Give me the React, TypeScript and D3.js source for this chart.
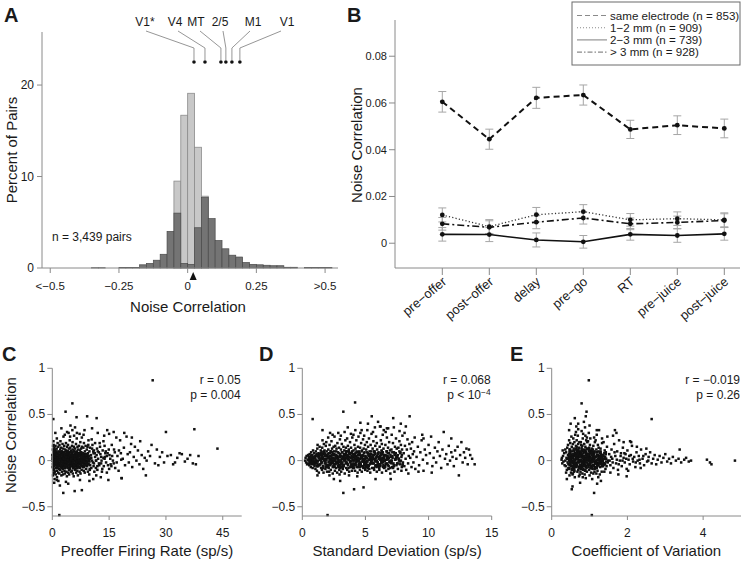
import React from "react";
import * as d3 from "d3";

const FONT = "'Liberation Sans', Arial, Helvetica, sans-serif";
const AXIS = "#8a8a8a";
const TXT = "#1a1a1a";

// ---------------- Panel A: histogram ----------------
const binWidth = 0.025;
const darkBinStart = [-0.35, -0.325, -0.25, -0.225, -0.2, -0.175, -0.15, -0.125, -0.1, -0.075, -0.05, -0.025, 0, 0.025, 0.05, 0.075, 0.1, 0.125, 0.15, 0.175, 0.2, 0.225, 0.25, 0.275, 0.3, 0.325, 0.35, 0.375, 0.425, 0.45, 0.475, 0.5];
const darkBinPct = [0.03, 0.03, 0.05, 0.05, 0.06, 0.35, 0.5, 0.85, 1.5, 4.0, 6.0, 0.5, 0.4, 4.4, 7.7, 5.4, 3.0, 2.1, 1.4, 1.2, 0.6, 0.4, 0.35, 0.3, 0.25, 0.25, 0.08, 0.08, 0.04, 0.04, 0.04, 0.04];
const lightBinStart = [-0.05, -0.025, 0, 0.025, 0.05];
const lightBinPct = [9.5, 16.7, 19.1, 13.2, 7.85];
const histTicks = [-0.5, -0.25, 0, 0.25, 0.5];
const histTickLabels = ["<−0.5", "−0.25", "0", "0.25", ">0.5"];
const pctTicks = [0, 10, 20];
const meanNoiseCorr = 0.02;
const areaNames = ["V1*", "V4", "MT", "2/5", "M1", "V1"];
const areaCorr = [0.023, 0.063, 0.121, 0.139, 0.161, 0.19];
const areaLabelX = [145, 175, 196, 220, 253, 287];
const areaLeaderX = [146, 178, 200, 223, 250, 281];

// ---------------- Panel B: epochs ----------------
const epochs = ["pre−offer", "post−offer", "delay", "pre−go", "RT", "pre−juice", "post−juice"];
const sameElec = [0.0605, 0.0445, 0.0622, 0.0634, 0.0487, 0.0505, 0.0491];
const sameElecErr = [0.0044, 0.0043, 0.0045, 0.0043, 0.0039, 0.004, 0.004];
const mm12 = [0.0121, 0.0071, 0.0122, 0.0135, 0.01, 0.0105, 0.01];
const mm12Err = [0.003, 0.003, 0.0031, 0.003, 0.0027, 0.0029, 0.003];
const mm23 = [0.0038, 0.0037, 0.0014, 0.0006, 0.0038, 0.0033, 0.004];
const mm23Err = [0.0029, 0.003, 0.003, 0.0027, 0.0025, 0.0029, 0.0027];
const mm3 = [0.0083, 0.0068, 0.009, 0.0108, 0.0083, 0.0089, 0.0097];
const mm3Err = [0.0027, 0.0028, 0.0028, 0.0026, 0.0025, 0.0027, 0.0029];
const corrTicks = [0, 0.02, 0.04, 0.06, 0.08];
const legendLabels = ["same electrode (n = 853)", "1−2 mm (n = 909)", "2−3 mm (n = 739)", "> 3 mm (n = 928)"];

// ---------------- Panel C: firing rate vs noise correlation ----------------
const firingCore = [
[0.1,0.01],[0.2,-0.07],[0.15,0.12],[0.3,-0.13],[0.25,0.05],[0.4,-0.02],[0.35,0.17],[0.45,-0.1],[0.5,0.08],[0.2,-0.16],[0.55,0.14],[0.6,-0.05],[0.3,0.21],[0.7,0.03],[0.65,-0.12],[0.8,0.11],[0.9,-0.08],[0.75,0.06],[0.95,-0.15],[0.85,0.16],[0.4,0.09],[0.6,-0.2],[0.9,0.02],[0.15,-0.04],
[1.0,0.0],[1.1,-0.04],[1.05,0.09],[1.2,-0.11],[1.15,0.13],[1.3,0.04],[1.25,-0.18],[1.4,0.19],[1.35,-0.06],[1.5,0.07],[1.55,-0.13],[1.6,0.15],[1.7,-0.02],[1.65,0.1],[1.8,-0.09],[1.75,0.02],[1.9,0.17],[1.85,-0.14],[1.95,-0.03],[1.45,0.01],[1.2,0.24],[1.6,-0.22],
[2.0,0.05],[2.1,0.12],[2.05,-0.1],[2.2,0.0],[2.15,0.21],[2.3,-0.07],[2.25,0.08],[2.4,-0.16],[2.35,0.14],[2.5,0.03],[2.45,-0.05],[2.6,0.1],[2.55,-0.12],[2.7,0.18],[2.65,-0.01],[2.8,0.06],[2.75,-0.09],[2.9,0.13],[2.85,-0.15],[2.95,0.26],[2.3,0.02],[2.7,-0.04],
[3.0,0.01],[3.1,-0.06],[3.05,0.09],[3.2,-0.11],[3.15,0.16],[3.3,0.04],[3.25,-0.02],[3.4,0.12],[3.35,-0.14],[3.5,0.07],[3.45,-0.08],[3.6,0.19],[3.55,0.0],[3.7,-0.12],[3.65,0.11],[3.8,-0.04],[3.75,0.05],[3.9,0.15],[3.85,-0.17],[3.95,0.03],[3.3,0.28],[3.6,-0.23],
[4.0,-0.07],[4.1,0.1],[4.05,0.02],[4.2,-0.13],[4.15,0.17],[4.3,-0.01],[4.25,0.07],[4.4,-0.1],[4.35,0.13],[4.5,0.04],[4.45,-0.15],[4.6,0.22],[4.55,-0.04],[4.7,0.09],[4.65,-0.09],[4.8,0.01],[4.75,0.14],[4.9,-0.12],[4.85,0.06],[4.95,-0.02],[4.3,0.3],[4.7,0.26],
[5.0,0.11],[5.1,-0.05],[5.05,0.04],[5.2,0.16],[5.15,-0.11],[5.3,0.0],[5.25,0.08],[5.4,-0.14],[5.35,0.2],[5.5,-0.03],[5.45,0.12],[5.6,0.05],[5.55,-0.08],[5.7,0.15],[5.65,-0.17],[5.8,0.02],[5.75,0.27],[5.9,-0.06],[5.85,0.1],[5.95,-0.1],[5.3,0.33],
[6.0,0.03],[6.1,-0.09],[6.05,0.13],[6.2,-0.02],[6.15,0.07],[6.3,-0.13],[6.25,0.18],[6.4,0.01],[6.35,-0.06],[6.5,0.1],[6.45,0.24],[6.6,-0.11],[6.55,0.05],[6.7,-0.03],[6.65,0.15],[6.8,0.08],[6.75,-0.16],[6.9,0.0],[6.85,0.12],[6.95,-0.07],[6.5,0.3],
[7.0,0.06],[7.1,-0.04],[7.05,0.16],[7.2,-0.12],[7.15,0.02],[7.3,0.11],[7.25,-0.08],[7.4,0.2],[7.35,-0.01],[7.5,0.07],[7.45,-0.14],[7.6,0.13],[7.55,0.0],[7.7,-0.06],[7.65,0.09],[7.8,0.25],[7.75,-0.1],[7.9,0.04],[7.85,0.15],[7.95,-0.02],
[8.0,0.08],[8.1,-0.07],[8.2,0.14],[8.15,0.01],[8.3,-0.11],[8.4,0.05],[8.35,0.19],[8.5,-0.03],[8.6,0.1],[8.55,-0.13],[8.7,0.03],[8.8,0.16],[8.75,-0.05],[8.9,0.07],[8.95,-0.09],[8.25,0.28],
[9.0,0.0],[9.1,0.12],[9.2,-0.06],[9.3,0.06],[9.4,-0.12],[9.5,0.17],[9.6,0.02],[9.7,-0.04],[9.8,0.1],[9.9,-0.1],[9.55,0.22],[9.35,0.04],[9.75,-0.15],[9.95,0.14],
[10.1,0.03],[10.3,-0.08],[10.5,0.13],[10.7,-0.02],[10.9,0.08],[11.1,-0.12],[11.3,0.19],[11.5,0.0],[11.7,0.06],[11.9,-0.06],[10.4,0.23],[11.0,0.11],[11.6,-0.16],[12.0,0.1]
];
const firingDense = [
[0.05,0.0],[0.5,0.05],[0.25,-0.04],[0.75,0.08],[0.1,-0.07],[0.6,0.02],[0.35,0.1],[0.9,-0.02],[0.15,0.06],[0.45,-0.06],[0.8,0.03],[0.3,-0.09],[0.65,0.07],[0.95,-0.01],[0.2,0.04],[0.55,-0.05],[0.4,0.09],[0.85,-0.03],[0.7,0.01],[0.0,0.06],
[1.05,0.03],[1.5,-0.03],[1.25,0.07],[1.75,-0.06],[1.1,0.1],[1.6,0.0],[1.35,-0.08],[1.9,0.05],[1.15,-0.02],[1.45,0.04],[1.8,0.09],[1.3,0.01],[1.65,-0.05],[1.95,0.02],[1.2,-0.06],[1.55,0.08],[1.4,-0.01],[1.85,-0.09],[1.7,0.06],[1.0,-0.04],
[2.05,-0.05],[2.5,0.08],[2.25,0.02],[2.75,-0.03],[2.1,0.06],[2.6,-0.08],[2.35,0.0],[2.9,0.04],[2.15,0.09],[2.45,-0.02],[2.8,0.07],[2.3,-0.07],[2.65,0.03],[2.95,-0.05],[2.2,0.05],[2.55,-0.01],[2.4,0.1],[2.85,0.01],[2.7,-0.06],[2.0,0.02],
[3.05,0.04],[3.5,-0.06],[3.25,0.09],[3.75,0.01],[3.1,-0.03],[3.6,0.06],[3.35,-0.08],[3.9,0.03],[3.15,0.0],[3.45,0.07],[3.8,-0.04],[3.3,0.05],[3.65,-0.01],[3.95,0.08],[3.2,-0.07],[3.55,0.02],[3.4,-0.03],[3.85,0.06],[3.7,0.1],[3.0,-0.05],
[4.05,0.07],[4.5,0.0],[4.25,-0.05],[4.75,0.04],[4.1,0.02],[4.6,-0.07],[4.35,0.08],[4.9,-0.02],[4.15,-0.08],[4.45,0.05],[4.8,0.09],[4.3,0.01],[4.65,0.06],[4.95,-0.05],[4.2,0.1],[4.55,-0.03],[4.4,0.03],[4.85,0.02],[4.7,-0.06],[4.0,0.0],
[5.05,-0.02],[5.5,0.06],[5.25,0.03],[5.75,-0.05],[5.1,0.08],[5.6,0.01],[5.35,-0.06],[5.9,0.07],[5.15,0.04],[5.45,-0.08],[5.8,0.02],[5.3,0.09],[5.65,-0.03],[5.95,0.0],[5.2,-0.04],[5.55,0.05],[5.4,0.0],[5.85,-0.07],[5.7,0.1],[5.0,0.05],
[6.05,0.01],[6.5,-0.04],[6.25,0.06],[6.75,0.02],[6.1,-0.06],[6.6,0.08],[6.35,0.03],[6.9,-0.03],[6.15,0.09],[6.45,0.0],[6.8,-0.07],[6.3,-0.02],[6.65,0.05],[6.95,0.07],[6.2,0.04],[6.55,-0.08],[6.4,0.07],[6.85,0.01],[6.7,-0.01],[6.0,-0.05],
[7.05,-0.03],[7.5,0.04],[7.25,0.0],[7.75,0.07],[7.1,0.05],[7.6,-0.05],[7.35,0.08],[7.9,-0.01],[7.15,-0.07],[7.45,0.02],[7.8,0.05],[7.3,0.06],[7.65,-0.02],[7.95,-0.06],[7.2,0.01],[7.55,0.09],[7.4,-0.04],[7.85,0.03],[7.7,0.0],[7.0,0.07],
[8.05,0.02],[8.5,-0.05],[8.25,0.06],[8.75,0.0],[8.1,-0.03],[8.6,0.07],[8.35,-0.07],[8.9,0.04],[8.15,0.08],[8.45,0.01],[8.8,-0.04],[8.3,0.03],[8.65,-0.01],[8.95,0.06],[8.2,-0.06],[8.55,0.05],
[9.1,-0.02],[9.4,0.08],[9.7,0.01],[10.0,-0.05],[10.2,0.06],[10.5,0.0],[10.8,0.1],[11.0,-0.03],[11.3,0.04],[11.5,-0.08],[11.8,0.13],[12.1,0.02],[12.4,-0.05],[12.7,0.07],[13.0,0.0],[13.3,0.11],[13.6,-0.06],[13.9,0.04],[14.2,-0.02],[14.6,0.08],[15.0,-0.09],[15.3,0.02],[15.8,0.05],[16.2,-0.03],[9.3,0.15],[9.9,-0.09],[10.6,0.17],[11.2,0.08],[11.9,-0.1],[12.5,0.19],[13.1,-0.12],[13.8,0.16],[14.4,0.05],[14.9,0.12],[15.6,-0.06],[16.5,0.09],[17.0,-0.02],[17.6,0.11],[18.2,0.01],[9.5,-0.01],[10.3,0.03],[10.9,-0.06],[11.6,0.0],[12.3,0.09],[12.9,-0.03],[13.5,0.03],[14.0,0.08],[14.7,-0.05],[0.3,-0.1],[0.6,0.12],[0.2,0.16],[0.45,-0.14]
];
const firingInner = [
[0.08,0.03],[0.22,-0.02],[0.38,0.05],[0.52,-0.05],[0.68,0.0],[0.82,0.04],[0.98,-0.03],[1.12,0.06],[1.28,-0.01],[1.42,0.03],[1.58,-0.06],[1.72,0.01],[1.88,0.05],[2.02,-0.03],[2.18,0.02],[2.32,-0.05],[2.48,0.06],[2.62,0.0],[2.78,-0.04],[2.92,0.03],[3.08,-0.01],[3.22,0.05],[3.38,-0.05],[3.52,0.02],[3.68,0.04],[3.82,-0.02],[3.98,0.0],[4.12,-0.05],[4.28,0.04],[4.42,-0.01],[4.58,0.06],[4.72,-0.03],[4.88,0.02],[5.02,-0.06],[5.18,0.01],[5.32,0.05],[5.48,-0.02],[5.62,0.03],[5.78,-0.05],[5.92,0.04],[6.08,0.0],[6.22,-0.03],[6.38,0.05],[6.52,-0.01],[6.68,0.03],[6.82,-0.05],[6.98,0.02],[7.12,0.05],[7.28,-0.02],[7.42,0.01],[7.58,-0.04],[7.72,0.04],[7.88,0.0],[8.02,-0.03],[8.18,0.05],[8.32,-0.01],[8.48,0.03],[8.62,-0.05],[8.78,0.02],[8.92,0.06],[9.08,-0.02],[9.22,0.03],[9.38,-0.04],[9.52,0.01],[9.68,0.05],[9.82,-0.01],[9.98,0.02],
[0.3,0.0],[0.6,-0.01],[1.0,0.01],[1.5,0.0],[2.0,0.01],[2.5,-0.01],[3.0,0.02],[3.5,-0.01],[4.0,0.01],[4.5,-0.02],[5.0,0.02],[5.5,0.0],[6.0,0.02],[6.5,-0.01],[7.0,0.0]
];
const firingSparse = [
[12.3,-0.03],[12.6,0.15],[12.9,0.04],[13.2,-0.09],[13.5,0.21],[13.8,0.02],[14.1,0.1],[14.5,0.33],[14.4,-0.13],[14.8,-0.21],[15.1,0.06],[15.4,-0.04],[15.7,0.17],[16.0,0.0],[16.3,0.12],[16.6,-0.08],[16.9,0.25],[17.2,0.05],[17.5,-0.11],[17.9,0.22],[18.1,0.08],[18.3,-0.19],[18.6,0.02],[18.9,0.14],[19.2,-0.05],[19.6,0.26],[19.9,0.07],[20.2,-0.02],[20.5,0.09],[20.8,0.18],[21.1,-0.07],[21.5,0.04],[21.8,0.15],[22.2,0.0],[22.6,0.11],[23.0,-0.04],[23.2,0.21],[23.6,0.06],[24.0,-0.09],[24.4,0.03],[24.7,-0.16],[24.9,0.0],[25.3,0.1],[25.8,0.05],[26.2,0.17],[26.5,0.87],[27.1,-0.03],[27.6,0.12],[28.0,-0.05],[28.4,0.04],[29.0,0.09],[29.5,-0.02],[30.0,0.31],[30.4,0.05],[31.3,0.06],[31.9,-0.04],[32.4,-0.02],[33.0,0.03],[33.6,0.08],[34.2,0.07],[35.0,-0.01],[35.7,0.02],[36.4,0.06],[37.1,-0.03],[37.5,0.34],[37.9,-0.04],[38.6,0.05],[43.6,0.13],
[5.3,0.62],[3.5,0.53],[0.27,0.45],[9.2,0.48],[11.7,0.46],[6.4,0.47],[1.85,-0.59],[2.9,-0.35],[7.3,-0.21],[7.8,-0.32],[5.9,-0.33],[4.2,-0.25],[1.2,-0.21],[18.3,-0.19],[2.4,0.35],[4.8,0.38],[6.0,0.36],[8.5,0.33],[10.5,0.35],[12.0,0.3],[7.2,0.29],[3.9,0.31],[2.0,-0.27],[0.5,-0.24],[10.8,-0.2],[12.8,-0.18],[13.7,0.27],[16.2,0.31],[15.0,0.29],[19.0,0.3],[21.0,0.25],[0.8,0.3],[9.8,-0.22]
];

// ---------------- Panel D: SD vs noise correlation ----------------
const sdCore = [
[0.22,0.0],[0.26,0.03],[0.3,-0.02],[0.34,0.05],[0.38,-0.04],[0.42,0.01],[0.46,0.06],[0.48,-0.03],
[0.52,0.02],[0.55,-0.05],[0.58,0.07],[0.61,-0.01],[0.64,0.04],[0.67,-0.07],[0.7,0.09],[0.73,0.0],[0.76,-0.04],[0.79,0.06],[0.82,-0.08],[0.85,0.11],[0.88,0.02],[0.91,-0.03],[0.94,0.08],[0.97,-0.06],
[1.01,0.03],[1.04,-0.09],[1.07,0.1],[1.1,-0.02],[1.13,0.06],[1.16,-0.11],[1.19,0.13],[1.22,0.0],[1.25,-0.06],[1.28,0.08],[1.31,-0.13],[1.34,0.04],[1.37,0.15],[1.4,-0.04],[1.43,0.01],[1.46,0.11],[1.49,-0.08],[1.03,0.05],[1.21,0.17],[1.39,0.07],
[1.51,-0.01],[1.53,0.09],[1.56,-0.1],[1.58,0.14],[1.61,0.03],[1.63,-0.06],[1.66,0.07],[1.68,-0.13],[1.71,0.18],[1.73,0.0],[1.76,0.11],[1.78,-0.03],[1.81,0.05],[1.83,-0.09],[1.86,0.16],[1.88,0.02],[1.91,-0.05],[1.93,0.1],[1.96,-0.12],[1.98,0.06],[1.6,0.22],[1.9,0.2],
[2.01,0.04],[2.03,-0.07],[2.06,0.12],[2.08,-0.02],[2.11,0.08],[2.13,-0.12],[2.16,0.17],[2.18,0.01],[2.21,-0.05],[2.23,0.1],[2.26,-0.1],[2.28,0.05],[2.31,0.21],[2.33,-0.03],[2.36,0.13],[2.38,0.0],[2.41,-0.14],[2.43,0.07],[2.46,-0.06],[2.48,0.15],[2.05,0.25],[2.25,0.02],[2.4,0.28],[2.15,-0.16],
[2.51,-0.04],[2.53,0.1],[2.56,0.02],[2.58,-0.11],[2.61,0.16],[2.63,-0.01],[2.66,0.06],[2.68,-0.08],[2.71,0.13],[2.73,0.04],[2.76,-0.13],[2.78,0.19],[2.81,-0.03],[2.83,0.09],[2.86,-0.07],[2.88,0.01],[2.91,0.14],[2.93,-0.1],[2.96,0.05],[2.98,0.23],[2.55,0.26],[2.7,-0.02],[2.85,0.3],[2.95,-0.15],
[3.01,0.07],[3.03,-0.05],[3.06,0.12],[3.08,-0.12],[3.11,0.02],[3.13,0.18],[3.16,-0.02],[3.18,0.09],[3.21,-0.09],[3.23,0.04],[3.26,0.15],[3.28,-0.06],[3.31,0.0],[3.33,0.11],[3.36,-0.14],[3.38,0.06],[3.41,0.22],[3.43,-0.03],[3.46,0.08],[3.48,-0.08],[3.05,0.27],[3.2,0.03],[3.35,0.31],[3.45,0.14],
[3.51,-0.02],[3.53,0.1],[3.56,-0.1],[3.58,0.05],[3.61,0.16],[3.63,-0.05],[3.66,0.01],[3.68,0.12],[3.71,-0.12],[3.73,0.07],[3.76,-0.01],[3.78,0.2],[3.81,-0.07],[3.83,0.03],[3.86,0.14],[3.88,-0.04],[3.91,0.08],[3.93,-0.11],[3.96,0.25],[3.98,0.02],[3.55,0.24],[3.7,-0.16],[3.85,0.29],[3.95,0.1],
[4.01,0.04],[4.03,-0.08],[4.06,0.11],[4.08,0.0],[4.11,-0.04],[4.13,0.17],[4.16,0.07],[4.18,-0.11],[4.21,0.13],[4.23,-0.02],[4.26,0.05],[4.28,0.22],[4.31,-0.07],[4.33,0.09],[4.36,0.01],[4.38,-0.13],[4.41,0.15],[4.43,0.03],[4.46,-0.05],[4.48,0.1],[4.05,0.28],[4.2,0.33],[4.35,-0.17],[4.45,0.26],
[4.51,-0.03],[4.53,0.08],[4.56,-0.1],[4.58,0.14],[4.61,0.02],[4.63,-0.06],[4.66,0.19],[4.68,0.05],[4.71,-0.12],[4.73,0.11],[4.76,-0.01],[4.78,0.06],[4.81,0.23],[4.83,-0.08],[4.86,0.13],[4.88,0.0],[4.91,-0.04],[4.93,0.09],[4.96,0.17],[4.98,-0.1],[4.6,0.3],[4.9,0.27],
[5.01,0.05],[5.03,-0.07],[5.06,0.12],[5.08,-0.02],[5.11,0.2],[5.13,0.03],[5.16,-0.11],[5.18,0.08],[5.21,0.15],[5.23,-0.05],[5.26,0.01],[5.28,0.24],[5.31,-0.09],[5.33,0.1],[5.36,0.04],[5.38,-0.13],[5.41,0.17],[5.43,-0.01],[5.46,0.07],[5.48,0.29],[5.15,0.33],[5.4,-0.03],
[5.51,0.02],[5.54,-0.08],[5.57,0.13],[5.6,-0.03],[5.63,0.21],[5.66,0.06],[5.69,-0.1],[5.72,0.1],[5.75,0.0],[5.78,0.16],[5.81,-0.05],[5.84,0.26],[5.87,0.04],[5.9,-0.12],[5.93,0.12],[5.96,-0.02],[5.99,0.08],[5.6,0.31],[5.75,0.36],[5.9,0.19],
[6.01,-0.04],[6.04,0.09],[6.07,0.02],[6.1,-0.1],[6.13,0.15],[6.16,0.05],[6.19,-0.06],[6.22,0.22],[6.25,0.0],[6.28,0.11],[6.31,-0.13],[6.34,0.07],[6.37,0.28],[6.4,-0.02],[6.43,0.13],[6.46,0.03],[6.49,-0.08],[6.15,0.37],[6.3,0.18],[6.45,0.33],
[6.52,0.06],[6.55,-0.06],[6.58,0.17],[6.61,0.01],[6.64,-0.11],[6.67,0.1],[6.7,0.25],[6.73,-0.03],[6.76,0.08],[6.79,0.14],[6.82,-0.09],[6.85,0.03],[6.88,0.2],[6.91,-0.01],[6.94,0.11],[6.97,-0.14],[6.6,0.31],[6.8,0.35],
[7.02,0.0],[7.06,0.12],[7.1,-0.07],[7.14,0.05],[7.18,0.19],[7.22,-0.03],[7.26,0.09],[7.3,-0.12],[7.34,0.15],[7.38,0.02],[7.42,0.24],[7.46,-0.05],[7.08,0.28],[7.25,0.36],[7.4,0.08],[7.48,0.13],
[7.53,0.04],[7.57,-0.09],[7.61,0.14],[7.65,0.0],[7.69,0.21],[7.73,-0.04],[7.77,0.09],[7.81,0.17],[7.85,-0.11],[7.89,0.06],[7.93,0.27],[7.97,-0.02],[7.7,0.32],[7.9,0.12],
[8.03,0.08],[8.08,-0.06],[8.13,0.16],[8.18,0.02],[8.23,-0.1],[8.28,0.12],[8.33,0.23],[8.38,-0.03],[8.43,0.05],[8.48,0.18],[8.1,0.3],[8.4,-0.14],
[8.55,0.03],[8.6,0.13],[8.65,-0.07],[8.7,0.2],[8.75,0.07],[8.8,-0.02],[8.85,0.1],[8.9,0.25],[8.95,-0.09]
];
const sdDense = [
[0.51,0.0],[0.76,0.03],[0.63,-0.02],[0.88,0.04],[0.56,-0.04],[0.81,0.01],[0.69,0.05],[0.94,-0.01],[0.59,0.03],[0.84,-0.03],[0.71,0.02],[0.97,-0.04],[0.53,0.04],[0.79,-0.01],[0.66,0.02],[0.91,-0.03],
[1.01,0.03],[1.26,-0.05],[1.13,0.07],[1.38,0.01],[1.06,-0.02],[1.31,0.06],[1.19,-0.06],[1.44,0.02],[1.09,0.0],[1.34,0.05],[1.21,-0.04],[1.47,0.08],[1.03,-0.01],[1.29,0.04],[1.16,-0.06],[1.41,0.02],
[1.51,-0.03],[1.76,0.08],[1.63,0.02],[1.88,-0.07],[1.56,0.06],[1.81,0.0],[1.69,0.1],[1.94,-0.05],[1.59,0.04],[1.84,-0.01],[1.71,0.09],[1.97,-0.06],[1.53,0.03],[1.79,0.07],[1.66,-0.08],[1.91,0.05],
[2.01,0.07],[2.26,-0.02],[2.13,0.04],[2.38,0.09],[2.06,-0.06],[2.31,0.01],[2.19,-0.04],[2.44,0.06],[2.09,-0.08],[2.34,0.03],[2.21,0.08],[2.47,0.0],[2.03,-0.05],[2.29,0.1],[2.16,0.02],[2.41,-0.07],
[2.51,0.0],[2.76,0.05],[2.63,-0.04],[2.88,0.08],[2.56,-0.07],[2.81,0.02],[2.69,0.1],[2.94,-0.02],[2.59,0.06],[2.84,-0.06],[2.71,0.03],[2.97,-0.08],[2.53,0.07],[2.79,-0.01],[2.66,0.04],[2.91,-0.05],
[3.01,0.04],[3.26,-0.06],[3.13,0.09],[3.38,0.01],[3.06,-0.03],[3.31,0.07],[3.19,-0.08],[3.44,0.03],[3.09,0.0],[3.34,0.06],[3.21,-0.05],[3.47,0.1],[3.03,-0.01],[3.29,0.05],[3.16,-0.07],[3.41,0.02],
[3.51,-0.03],[3.76,0.08],[3.63,0.02],[3.88,-0.07],[3.56,0.06],[3.81,0.0],[3.69,0.1],[3.94,-0.05],[3.59,0.04],[3.84,-0.01],[3.71,0.09],[3.97,-0.06],[3.53,0.03],[3.79,0.07],[3.66,-0.08],[3.91,0.05],
[4.01,0.07],[4.26,-0.02],[4.13,0.04],[4.38,0.09],[4.06,-0.06],[4.31,0.01],[4.19,-0.04],[4.44,0.06],[4.09,-0.08],[4.34,0.03],[4.21,0.08],[4.47,0.0],[4.03,-0.05],[4.29,0.1],[4.16,0.02],[4.41,-0.07],
[4.51,0.0],[4.76,0.05],[4.63,-0.04],[4.88,0.08],[4.56,-0.07],[4.81,0.02],[4.69,0.1],[4.94,-0.02],[4.59,0.06],[4.84,-0.06],[4.71,0.03],[4.97,-0.08],[4.53,0.07],[4.79,-0.01],[4.66,0.04],[4.91,-0.05],
[5.01,0.04],[5.26,-0.06],[5.13,0.09],[5.38,0.01],[5.06,-0.03],[5.31,0.07],[5.19,-0.08],[5.44,0.03],[5.09,0.0],[5.34,0.06],[5.21,-0.05],[5.47,0.1],[5.03,-0.01],[5.29,0.05],[5.16,-0.07],[5.41,0.02],
[5.51,-0.03],[5.76,0.08],[5.63,0.02],[5.88,-0.07],[5.56,0.06],[5.81,0.0],[5.69,0.1],[5.94,-0.05],[5.59,0.04],[5.84,-0.01],[5.71,0.09],[5.97,-0.06],[5.53,0.03],[5.79,0.07],[5.66,-0.08],[5.91,0.05],
[6.01,0.07],[6.26,-0.02],[6.13,0.04],[6.38,0.09],[6.06,-0.06],[6.31,0.01],[6.19,-0.04],[6.44,0.06],[6.09,-0.08],[6.34,0.03],[6.21,0.08],[6.47,0.0],[6.03,-0.05],[6.29,0.1],[6.16,0.02],[6.41,-0.07],
[6.51,0.0],[6.76,0.05],[6.63,-0.04],[6.88,0.08],[6.56,-0.07],[6.81,0.02],[6.69,0.1],[6.94,-0.02],[6.59,0.06],[6.84,-0.06],[6.71,0.03],[6.97,-0.08],
[7.01,0.04],[7.26,-0.06],[7.13,0.09],[7.38,0.01],[7.06,-0.03],[7.31,0.07],[7.19,-0.08],[7.44,0.03],[7.09,0.0],[7.34,0.06],
[7.51,-0.03],[7.76,0.08],[7.63,0.02],[7.88,-0.07],[7.56,0.06],[7.81,0.0],[7.69,0.1],[7.94,-0.05]
];
const sdInner = [
[1.05,0.01],[1.12,-0.03],[1.18,0.05],[1.24,-0.01],[1.3,0.03],[1.36,-0.05],[1.42,0.06],[1.48,0.0],
[1.55,-0.02],[1.6,0.04],[1.67,-0.06],[1.73,0.02],[1.79,0.06],[1.85,-0.03],[1.92,0.01],[1.98,-0.05],
[2.04,0.03],[2.1,-0.01],[2.17,0.05],[2.23,-0.04],[2.29,0.0],[2.35,0.06],[2.42,-0.02],[2.48,0.03],
[2.54,-0.05],[2.6,0.01],[2.67,0.06],[2.73,-0.03],[2.79,0.02],[2.85,-0.01],[2.92,0.04],[2.98,-0.06],
[3.04,0.0],[3.1,0.05],[3.17,-0.03],[3.23,0.02],[3.29,-0.05],[3.35,0.04],[3.42,0.0],[3.48,-0.02],
[3.54,0.06],[3.6,-0.04],[3.67,0.01],[3.73,0.04],[3.79,-0.02],[3.85,-0.06],[3.92,0.03],[3.98,0.0],
[4.04,-0.03],[4.1,0.05],[4.17,0.01],[4.23,-0.05],[4.29,0.03],[4.35,-0.01],[4.42,0.06],[4.48,-0.04],
[4.54,0.02],[4.6,-0.02],[4.67,0.04],[4.73,-0.06],[4.79,0.0],[4.85,0.05],[4.92,-0.03],[4.98,0.02],
[5.04,-0.05],[5.1,0.03],[5.17,-0.01],[5.23,0.06],[5.29,0.01],[5.35,-0.04],[5.42,0.04],[5.48,-0.02],
[5.54,0.0],[5.6,0.05],[5.67,-0.03],[5.73,0.02],[5.79,-0.06],[5.85,0.03],[5.92,0.0],[5.98,-0.02],
[6.04,0.04],[6.1,-0.04],[6.17,0.01],[6.23,0.06],[6.29,-0.02],[6.35,0.02],[6.42,-0.05],[6.48,0.04],
[6.54,0.0],[6.6,-0.03],[6.67,0.05],[6.73,0.01],[6.79,-0.05],[6.85,0.03],[6.92,-0.01],[6.98,0.06],
[7.05,-0.02],[7.15,0.03],[7.25,-0.05],[7.35,0.01],[7.45,0.05],[7.55,-0.03],[7.65,0.02],[7.75,-0.01],[7.85,0.04],[7.95,-0.04],
[0.6,0.0],[0.7,0.03],[0.8,-0.02],[0.9,0.04],[0.65,-0.03],[0.85,0.01],[0.95,-0.04],[0.75,0.05]
];
const sdSparse = [
[9.05,0.04],[9.15,0.15],[9.25,-0.05],[9.35,0.09],[9.45,0.22],[9.55,0.01],[9.6,-0.11],[9.7,0.12],[9.8,0.06],[9.9,-0.03],[10.0,0.17],[10.1,0.08],[10.2,0.26],[10.3,-0.06],[10.4,0.03],[10.5,0.14],[10.6,-0.02],[10.7,0.1],[10.8,0.2],[10.9,0.05],[11.0,-0.08],[11.1,0.12],[11.2,0.31],[11.3,0.02],[11.4,0.07],[11.5,-0.04],[11.6,0.16],[11.7,0.0],[11.8,0.09],[11.9,0.04],[12.0,-0.06],[12.1,0.11],[12.2,0.02],[12.4,-0.16],[12.5,0.06],[12.6,0.2],[12.7,-0.02],[12.8,0.09],[12.9,0.03],[13.0,0.13],[13.1,-0.04],[13.2,0.12],[13.3,0.06],[13.45,0.02],[13.65,-0.04],[9.2,-0.12],[10.25,-0.13],[9.5,0.28],[11.8,0.24],[12.3,0.15],
[4.18,0.63],[3.25,0.53],[0.82,0.45],[5.5,0.48],[7.2,0.46],[8.5,0.48],[1.6,0.33],[3.25,-0.35],[4.1,-0.31],[4.85,-0.29],[2.0,-0.59],[9.6,0.24],[6.2,0.37],[6.7,0.35],[4.7,0.33],[1.2,-0.16],[2.5,-0.2],[3.0,-0.22],[5.8,-0.2],[7.0,-0.2],[2.2,0.3],[3.6,0.36],[5.2,0.4],[4.6,0.41],[6.0,0.42],[7.8,0.4],[8.2,0.37]
];

// ---------------- Panel E: CV vs noise correlation ----------------
const cvCore = [
[0.26,0.01],[0.28,-0.03],[0.3,0.05],[0.31,-0.01],[0.33,0.08],[0.27,0.03],[0.34,-0.05],[0.29,0.11],
[0.36,0.0],[0.37,-0.06],[0.38,0.09],[0.39,0.03],[0.4,-0.1],[0.41,0.14],[0.42,-0.02],[0.43,0.06],[0.44,-0.08],[0.36,0.12],[0.38,-0.13],[0.41,0.02],[0.43,0.17],[0.44,-0.04],
[0.45,0.04],[0.46,-0.09],[0.47,0.12],[0.48,-0.02],[0.49,0.19],[0.5,0.07],[0.51,-0.13],[0.52,0.01],[0.53,0.15],[0.54,-0.06],[0.46,0.22],[0.47,-0.16],[0.49,0.09],[0.5,-0.04],[0.52,0.26],[0.53,-0.1],[0.54,0.05],[0.48,0.11],[0.51,0.0],[0.55,-0.15],
[0.56,0.03],[0.57,-0.07],[0.58,0.13],[0.59,-0.12],[0.6,0.2],[0.61,0.0],[0.62,0.08],[0.63,-0.03],[0.64,0.16],[0.56,-0.14],[0.57,0.24],[0.58,0.05],[0.59,-0.09],[0.6,0.1],[0.61,-0.18],[0.62,0.28],[0.63,0.02],[0.64,-0.06],[0.65,0.12],[0.56,0.18],[0.58,-0.01],[0.6,-0.11],[0.62,0.06],[0.64,0.31],
[0.66,-0.02],[0.67,0.1],[0.68,-0.12],[0.69,0.04],[0.7,0.18],[0.71,-0.07],[0.72,0.14],[0.73,0.01],[0.74,-0.15],[0.66,0.22],[0.67,-0.05],[0.68,0.08],[0.69,0.27],[0.7,-0.1],[0.71,0.12],[0.72,-0.02],[0.73,0.2],[0.74,0.06],[0.75,-0.08],[0.66,0.15],[0.68,0.02],[0.7,0.34],[0.72,-0.17],[0.74,0.1],
[0.76,0.05],[0.77,-0.09],[0.78,0.17],[0.79,-0.03],[0.8,0.11],[0.81,-0.14],[0.82,0.24],[0.83,0.0],[0.84,0.08],[0.76,-0.12],[0.77,0.2],[0.78,-0.01],[0.79,0.14],[0.8,-0.07],[0.81,0.04],[0.82,-0.18],[0.83,0.29],[0.84,-0.04],[0.85,0.12],[0.77,0.07],[0.79,0.32],[0.81,0.16],[0.83,-0.1],[0.85,0.02],
[0.86,-0.05],[0.87,0.09],[0.88,-0.11],[0.89,0.15],[0.9,0.01],[0.91,0.22],[0.92,-0.08],[0.93,0.06],[0.94,-0.02],[0.86,0.18],[0.87,-0.15],[0.88,0.03],[0.89,0.27],[0.9,-0.06],[0.91,0.1],[0.92,0.13],[0.93,-0.12],[0.94,0.2],[0.95,0.04],[0.88,0.36],[0.9,-0.19],[0.93,0.25],
[0.96,0.02],[0.97,-0.07],[0.98,0.12],[0.99,-0.1],[1.0,0.06],[1.01,0.17],[1.02,-0.03],[1.03,0.09],[1.04,-0.13],[0.96,0.21],[0.97,0.0],[0.98,-0.05],[0.99,0.14],[1.0,-0.16],[1.01,0.04],[1.02,0.24],[1.03,-0.08],[1.04,0.11],[1.05,0.01],[0.98,0.3],
[1.06,-0.02],[1.07,0.1],[1.08,-0.09],[1.09,0.05],[1.1,0.16],[1.11,-0.05],[1.12,0.07],[1.13,-0.12],[1.14,0.2],[1.06,0.13],[1.08,0.02],[1.1,-0.14],[1.12,0.25],[1.14,-0.03],[1.07,-0.2],[1.11,0.09],[1.13,0.03],[1.15,-0.07],
[1.16,0.04],[1.17,-0.08],[1.18,0.12],[1.19,-0.02],[1.2,0.09],[1.21,-0.11],[1.22,0.17],[1.23,0.01],[1.24,-0.05],[1.16,0.22],[1.18,-0.14],[1.2,0.06],[1.22,-0.03],[1.24,0.14],[1.19,0.28],[1.23,-0.18],
[1.26,0.0],[1.27,0.08],[1.28,-0.07],[1.29,0.13],[1.3,-0.03],[1.31,0.05],[1.32,-0.12],[1.33,0.19],[1.34,0.02],[1.27,-0.15],[1.29,0.1],[1.31,-0.01],[1.33,0.24],[1.35,-0.06],
[1.36,0.06],[1.38,-0.04],[1.4,0.11],[1.42,-0.09],[1.44,0.02],[1.46,0.15],[1.48,-0.02],[1.37,0.2],[1.39,-0.12],[1.41,0.04],[1.43,0.09],[1.45,-0.06],[1.47,0.26],[1.49,0.0]
];
const cvDense = [
[0.455,0.0],[0.505,0.06],[0.48,-0.05],[0.53,0.1],[0.465,-0.08],[0.515,0.03],[0.49,0.12],[0.54,-0.02],[0.46,0.07],[0.51,-0.06],[0.485,0.04],[0.535,-0.09],[0.47,0.09],[0.52,-0.01],
[0.555,0.05],[0.605,-0.07],[0.58,0.11],[0.63,0.01],[0.565,-0.03],[0.615,0.08],[0.59,-0.1],[0.64,0.04],[0.56,0.0],[0.61,0.07],[0.585,-0.05],[0.635,0.13],[0.57,-0.02],[0.62,0.06],
[0.655,-0.04],[0.705,0.09],[0.68,0.02],[0.73,-0.08],[0.665,0.07],[0.715,0.0],[0.69,0.12],[0.74,-0.06],[0.66,0.05],[0.71,-0.01],[0.685,0.1],[0.735,-0.07],[0.67,0.03],[0.72,0.08],
[0.755,0.0],[0.805,0.06],[0.78,-0.05],[0.83,0.1],[0.765,-0.08],[0.815,0.03],[0.79,0.12],[0.84,-0.02],[0.76,0.07],[0.81,-0.06],[0.785,0.04],[0.835,-0.09],[0.77,0.09],[0.82,-0.01],
[0.855,0.05],[0.905,-0.07],[0.88,0.11],[0.93,0.01],[0.865,-0.03],[0.915,0.08],[0.89,-0.1],[0.94,0.04],[0.86,0.0],[0.91,0.07],[0.885,-0.05],[0.935,0.13],[0.87,-0.02],[0.92,0.06],
[0.955,-0.04],[1.005,0.09],[0.98,0.02],[1.03,-0.08],[0.965,0.07],[1.015,0.0],[0.99,0.12],[1.04,-0.06],[0.96,0.05],[1.01,-0.01],[0.985,0.1],[1.035,-0.07],[0.97,0.03],[1.02,0.08],
[1.055,0.0],[1.105,0.06],[1.08,-0.05],[1.13,0.1],[1.065,-0.08],[1.115,0.03],[1.09,0.12],[1.14,-0.02],[1.06,0.07],[1.11,-0.06],[1.085,0.04],[1.135,-0.09],[1.07,0.09],[1.12,-0.01],
[1.155,0.04],[1.205,-0.06],[1.18,0.09],[1.23,0.01],[1.165,-0.02],[1.215,0.06],[1.19,-0.08],[1.24,0.03],[1.16,0.0],[1.21,0.05],[1.185,-0.04],[1.235,0.1],[1.17,-0.01],[1.22,0.05],
[1.255,-0.03],[1.305,0.07],[1.28,0.02],[1.33,-0.06],[1.265,0.05],[1.315,0.0],[1.29,0.09],[1.34,-0.04],[1.26,0.04],[1.31,-0.01],[1.285,0.08],[1.335,-0.05],
[1.355,0.0],[1.405,0.04],[1.38,-0.03],[1.43,0.07],[1.365,-0.05],[1.415,0.02],[1.39,0.08],[1.44,-0.01],[1.36,0.05],[1.41,-0.04]
];
const cvInner = [
[0.45,0.02],[0.47,-0.04],[0.49,0.06],[0.51,-0.01],[0.53,0.03],[0.55,-0.06],[0.57,0.07],[0.59,0.0],[0.61,-0.03],[0.63,0.05],[0.65,-0.07],[0.67,0.02],[0.69,0.06],[0.71,-0.02],[0.73,0.04],[0.75,-0.05],[0.77,0.01],[0.79,0.07],[0.81,-0.03],[0.83,0.03],[0.85,-0.06],[0.87,0.05],[0.89,0.0],[0.91,-0.02],[0.93,0.04],[0.95,-0.05],[0.97,0.06],[0.99,0.01],[1.01,-0.04],[1.03,0.03],[1.05,-0.01],[1.07,0.06],[1.09,-0.06],[1.11,0.02],[1.13,0.04],[1.15,-0.03],[1.17,0.0],[1.19,0.05],[1.21,-0.05],[1.23,0.02],[1.25,-0.02],[1.27,0.04],[1.29,0.0],[1.31,-0.04],[1.33,0.03],[1.35,-0.01],[1.37,0.02],[1.39,-0.03],
[0.5,0.0],[0.6,0.01],[0.7,-0.01],[0.8,0.0],[0.9,0.02],[1.0,-0.01],[1.1,0.0],[1.2,0.01],[0.55,0.04],[0.75,0.05],[0.95,0.02],[0.65,-0.05]
];
const cvSparse = [
[1.52,0.07],[1.55,-0.05],[1.58,0.12],[1.6,0.02],[1.63,-0.08],[1.65,0.18],[1.68,0.05],[1.7,-0.03],[1.73,0.1],[1.75,-0.1],[1.78,0.22],[1.8,0.0],[1.83,0.08],[1.85,-0.06],[1.88,0.14],[1.9,0.03],[1.93,-0.02],[1.95,0.07],[1.98,-0.09],[2.0,0.11],[2.03,0.01],[2.06,-0.04],[2.09,0.06],[2.12,0.16],[2.15,-0.01],[2.18,0.04],[2.21,-0.07],[2.24,0.09],[2.27,0.0],[2.3,0.05],[2.33,-0.03],[2.36,0.12],[2.4,0.02],[2.44,-0.05],[2.48,0.07],[2.52,-0.01],[2.56,0.04],[2.6,0.09],[2.64,-0.03],[2.68,0.02],[2.72,0.06],[2.76,-0.04],[2.8,0.01],[2.85,0.05],[2.9,-0.02],[2.95,0.03],[3.0,0.07],[3.05,-0.01],[3.1,0.02],[3.15,-0.03],[3.2,0.04],[3.28,0.0],[3.35,0.02],[3.42,-0.02],[3.5,0.01],[3.55,0.03],[3.62,-0.01],[3.38,0.12],[1.62,0.27],[1.71,0.3],[1.9,0.2],[2.1,0.2],[1.76,-0.15],[1.55,-0.13],[2.25,0.15],[2.5,0.13],[2.02,-0.11],[2.35,-0.08],
[1.53,0.0],[1.57,0.04],[1.61,-0.02],[1.66,0.09],[1.72,0.01],[1.77,-0.04],[1.82,0.05],[1.87,0.0],[1.92,0.08],[1.97,0.02],[2.05,0.05],[2.14,0.02],[2.22,-0.02],[2.32,0.01],[2.42,0.05],[2.55,0.0],
[0.98,0.87],[0.79,0.62],[0.92,0.53],[0.9,0.48],[0.61,0.46],[2.64,0.45],[1.12,-0.35],[1.06,-0.59],[0.53,-0.31],[0.55,-0.28],[1.98,-0.17],[4.84,0.0],[4.1,0.01],[4.18,-0.02],[4.22,-0.04],[3.68,0.0],[1.67,0.33],[1.19,0.33],[2.07,0.21],[0.5,0.4],[0.46,0.33],[0.7,0.4],[0.85,0.42],[1.0,0.38],[0.4,-0.2],[0.75,-0.24],[1.2,-0.25],[1.3,-0.22],[1.25,0.33],[0.65,0.37]
];

const scatterYTicks = [-0.5, 0, 0.5, 1];
const scatterYLabels = ["−0.5", "0", "0.5", "1"];

// ============================================================
function PanelA() {
  const x = d3.scaleLinear().domain([-0.53, 0.547]).range([42, 338]);
  const y = d3.scaleLinear().domain([0, 25.8]).range([268, 32]);
  const bw = (s: number) => x(s + binWidth) - x(s);
  const arrowX = x(meanNoiseCorr);
  return (
    <g fontFamily={FONT}>
      <text x={4} y={22} fontSize={20} fontWeight="bold" fill={TXT}>A</text>
      {lightBinStart.map((s, i) => (
        <rect key={"l" + i} x={x(s)} y={y(lightBinPct[i])} width={bw(s)} height={y(0) - y(lightBinPct[i])}
          fill="#c8c8c8" stroke="#8c8c8c" strokeWidth={0.8} />
      ))}
      {darkBinStart.map((s, i) => (
        <rect key={"d" + i} x={x(s)} y={y(darkBinPct[i])} width={bw(s)} height={y(0) - y(darkBinPct[i])}
          fill="#747474" stroke="#4a4a4a" strokeWidth={0.7} />
      ))}
      <line x1={42} x2={42} y1={32} y2={268} stroke={AXIS} strokeWidth={1} />
      <line x1={42} x2={338} y1={268} y2={268} stroke={AXIS} strokeWidth={1} />
      {pctTicks.map((t) => (
        <g key={"yt" + t}>
          <line x1={37} x2={42} y1={y(t)} y2={y(t)} stroke={AXIS} />
          <text x={34} y={y(t) + 4} textAnchor="end" fontSize={12} fill={TXT}>{t}</text>
        </g>
      ))}
      {histTicks.map((t, i) => (
        <g key={"xt" + t}>
          <line x1={x(t)} x2={x(t)} y1={268} y2={273} stroke={AXIS} />
          <text x={x(t)} y={290} textAnchor="middle" fontSize={11.5} fill={TXT}>{histTickLabels[i]}</text>
        </g>
      ))}
      <path d={`M${arrowX},272 L${arrowX - 3.5},280 L${arrowX + 3.5},280 Z`} fill="#111" />
      <text x={188} y={312} textAnchor="middle" fontSize={15} fill={TXT}>Noise Correlation</text>
      <text transform="translate(17,150) rotate(-90)" textAnchor="middle" fontSize={15} fill={TXT}>Percent of Pairs</text>
      <text x={52} y={241} fontSize={12} fill={TXT}>n = 3,439 pairs</text>
      {areaNames.map((n, i) => {
        const px = x(areaCorr[i]);
        return (
          <g key={"ar" + i}>
            <text x={areaLabelX[i]} y={26} textAnchor="middle" fontSize={12} fill={TXT}>{n}</text>
            <path d={`M${areaLeaderX[i]},31 L${px},48 L${px},60`} fill="none" stroke="#8a8a8a" strokeWidth={0.9} />
            <circle cx={px} cy={62} r={1.8} fill="#111" />
          </g>
        );
      })}
    </g>
  );
}

function PanelB() {
  const x = d3.scalePoint<string>().domain(epochs).range([442.3, 724.3]);
  const y = d3.scaleLinear().domain([-0.0106, 0.0955]).range([268, 20]);
  const series = [
    { v: sameElec, e: sameElecErr, dash: "6,4", w: 2, stroke: "#111" },
    { v: mm12, e: mm12Err, dash: "1.2,2.2", w: 1.3, stroke: "#333" },
    { v: mm23, e: mm23Err, dash: "", w: 1.6, stroke: "#111" },
    { v: mm3, e: mm3Err, dash: "7,3,2,3", w: 1.6, stroke: "#111" },
  ];
  const line = d3.line<number>().x((_, i) => x(epochs[i]) as number).y((d) => y(d));
  const legendDash = ["5,3", "1,2", "", "5,2,1.5,2"];
  return (
    <g fontFamily={FONT}>
      <text x={347} y={22} fontSize={20} fontWeight="bold" fill={TXT}>B</text>
      <line x1={395} x2={395} y1={20} y2={268} stroke={AXIS} />
      <line x1={395} x2={740} y1={268} y2={268} stroke={AXIS} />
      {corrTicks.map((t) => (
        <g key={"bt" + t}>
          <line x1={389} x2={395} y1={y(t)} y2={y(t)} stroke={AXIS} />
          <text x={387} y={y(t) + 4} textAnchor="end" fontSize={11} fill={TXT}>{t === 0 ? "0" : t.toFixed(2)}</text>
        </g>
      ))}
      {epochs.map((ep) => (
        <g key={ep}>
          <line x1={x(ep)} x2={x(ep)} y1={268} y2={275} stroke={AXIS} />
          <text transform={`translate(${(x(ep) as number) + 5},283) rotate(-40)`} textAnchor="end" fontSize={13} fill={TXT}>{ep}</text>
        </g>
      ))}
      <text transform="translate(362,145) rotate(-90)" textAnchor="middle" fontSize={15} fill={TXT}>Noise Correlation</text>
      {series.map((s, si) => (
        <g key={"eb" + si}>
          {s.v.map((v, i) => {
            const cx = x(epochs[i]) as number;
            return (
              <g key={i}>
                <line x1={cx} x2={cx} y1={y(v - s.e[i])} y2={y(v + s.e[i])} stroke="#a6a6a6" strokeWidth={1} />
                <line x1={cx - 4} x2={cx + 4} y1={y(v - s.e[i])} y2={y(v - s.e[i])} stroke="#a6a6a6" strokeWidth={1} />
                <line x1={cx - 4} x2={cx + 4} y1={y(v + s.e[i])} y2={y(v + s.e[i])} stroke="#a6a6a6" strokeWidth={1} />
              </g>
            );
          })}
        </g>
      ))}
      {series.map((s, si) => (
        <path key={"ln" + si} d={line(s.v) || ""} fill="none" stroke={s.stroke} strokeWidth={s.w} strokeDasharray={s.dash || undefined} />
      ))}
      {series.map((s, si) => (
        <g key={"pt" + si}>
          {s.v.map((v, i) => (
            <circle key={i} cx={x(epochs[i]) as number} cy={y(v)} r={2.4} fill="#111" />
          ))}
        </g>
      ))}
      <rect x={572} y={2} width={168} height={63} fill="#fff" stroke="#6a6a6a" strokeWidth={1} />
      {legendLabels.map((lab, i) => {
        const cy = 15.5 + i * 12.2;
        return (
          <g key={lab}>
            <line x1={577} x2={607} y1={cy} y2={cy} stroke="#8a8a8a" strokeWidth={1.1} strokeDasharray={legendDash[i] || undefined} />
            <text x={610} y={cy + 4.2} fontSize={11.6} fill={TXT}>{lab}</text>
          </g>
        );
      })}
    </g>
  );
}

type ScatterProps = {
  x0: number; x1: number; xMax: number; xTicks: number[];
  pts: number[][]; letter: string; letterX: number; xlabel: string;
  stat1: React.ReactNode; stat2: React.ReactNode; yLabel?: boolean;
};

function Scatter(p: ScatterProps) {
  const x = d3.scaleLinear().domain([0, p.xMax]).range([p.x0, p.x1]);
  const y = d3.scaleLinear().domain([-0.6, 1]).range([516, 368.3]);
  const ax = p.x0;
  const s = 2.5;
  return (
    <g fontFamily={FONT}>
      <text x={p.letterX} y={361} fontSize={20} fontWeight="bold" fill={TXT}>{p.letter}</text>
      {p.pts.map((d, i) => (
        <rect key={i} x={x(d[0]) - s / 2} y={y(d[1]) - s / 2} width={s} height={s} fill="#111" />
      ))}
      <line x1={ax} x2={ax} y1={368.3} y2={516} stroke={AXIS} />
      <line x1={ax} x2={p.x1} y1={516} y2={516} stroke={AXIS} />
      {scatterYTicks.map((t, i) => (
        <g key={"sy" + t}>
          <line x1={ax - 5} x2={ax} y1={y(t)} y2={y(t)} stroke={AXIS} />
          <text x={ax - 7} y={y(t) + 4} textAnchor="end" fontSize={12} fill={TXT}>{scatterYLabels[i]}</text>
        </g>
      ))}
      {p.xTicks.map((t) => (
        <g key={"sx" + t}>
          <line x1={x(t)} x2={x(t)} y1={516} y2={520} stroke={AXIS} />
          <text x={x(t)} y={537} textAnchor="middle" fontSize={12} fill={TXT}>{t}</text>
        </g>
      ))}
      <text x={(p.x0 + p.x1) / 2} y={556} textAnchor="middle" fontSize={15} fill={TXT}>{p.xlabel}</text>
      {p.yLabel && (
        <text transform="translate(16,435) rotate(-90)" textAnchor="middle" fontSize={15} fill={TXT}>Noise Correlation</text>
      )}
      <text x={p.x1 - 1} y={384} textAnchor="end" fontSize={12} fill={TXT}>{p.stat1}</text>
      <text x={p.x1 - 1} y={399} textAnchor="end" fontSize={12} fill={TXT}>{p.stat2}</text>
    </g>
  );
}

export default function App() {
  return (
    <svg width={743} height={564} viewBox="0 0 743 564" style={{ position: "absolute", left: 0, top: 0, background: "#fff" }}>
      <rect x={0} y={0} width={743} height={564} fill="#fff" />
      <PanelA />
      <PanelB />
      <Scatter x0={52.3} x1={241.7} xMax={50} xTicks={[0, 15, 30, 45]} pts={[...firingCore, ...firingDense, ...firingInner, ...firingSparse]}
        letter="C" letterX={2} xlabel="Preoffer Firing Rate (sp/s)" stat1="r = 0.05" stat2="p = 0.004" yLabel />
      <Scatter x0={302.3} x1={491.7} xMax={15} xTicks={[0, 5, 10, 15]} pts={[...sdCore, ...sdDense, ...sdInner, ...sdSparse]}
        letter="D" letterX={259} xlabel="Standard Deviation (sp/s)" stat1="r = 0.068"
        stat2={<>p &lt; 10<tspan dy={-4} fontSize={8.5}>−4</tspan></>} />
      <Scatter x0={551.7} x1={741} xMax={5} xTicks={[0, 2, 4]} pts={[...cvCore, ...cvDense, ...cvInner, ...cvSparse]}
        letter="E" letterX={510} xlabel="Coefficient of Variation" stat1="r = −0.019" stat2="p = 0.26" />
    </svg>
  );
}
